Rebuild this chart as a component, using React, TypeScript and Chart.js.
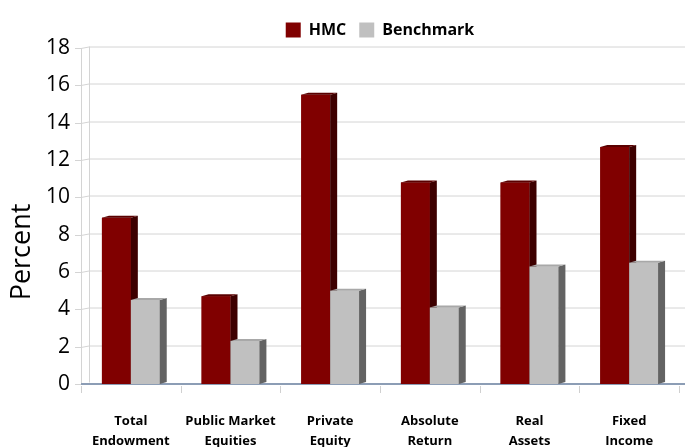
import { useEffect, useRef } from "react";
import { Chart, registerables } from "chart.js";

Chart.register(...registerables);

const categories: string[][] = [
  ["Total", "Endowment"],
  ["Public Market", "Equities"],
  ["Private", "Equity"],
  ["Absolute", "Return"],
  ["Real", "Assets"],
  ["Fixed", "Income"],
];
const seriesNames = ["HMC", "Benchmark"];
const hmcValues = [8.9, 4.7, 15.5, 10.8, 10.8, 12.7];
const benchmarkValues = [4.5, 2.3, 5.0, 4.1, 6.3, 6.5];
const yTickValues = [0, 2, 4, 6, 8, 10, 12, 14, 16, 18];
const yAxisTitle = "Percent";

const FONT = "'Open Sans', 'DejaVu Sans', sans-serif";
const DX = 7;
const DY = 2;

function drawFaces(ctx: any, el: any, ds: any) {
  const { x, y, base, width } = el.getProps(["x", "y", "base", "width"], true);
  const l = x - width / 2;
  const r = x + width / 2;
  ctx.fillStyle = ds.sideColor;
  ctx.beginPath();
  ctx.moveTo(r, y);
  ctx.lineTo(r + DX, y - DY);
  ctx.lineTo(r + DX, base - DY);
  ctx.lineTo(r, base);
  ctx.closePath();
  ctx.fill();
  ctx.fillStyle = ds.topColor;
  ctx.beginPath();
  ctx.moveTo(l, y);
  ctx.lineTo(l + DX, y - DY);
  ctx.lineTo(r + DX, y - DY);
  ctx.lineTo(r, y);
  ctx.closePath();
  ctx.fill();
}

const depthPlugin = {
  id: "depth3d",
  afterDatasetsDraw(chart: any) {
    const ctx = chart.ctx;
    ctx.save();
    chart.data.datasets.forEach((ds: any, i: number) => {
      const meta = chart.getDatasetMeta(i);
      meta.data.forEach((el: any) => {
        el.draw(ctx);
        drawFaces(ctx, el, ds);
      });
    });
    ctx.restore();
  },
};

const wallPlugin = {
  id: "walls",
  beforeDatasetsDraw(chart: any) {
    const ctx = chart.ctx;
    const { left, right, top, bottom } = chart.chartArea;
    const ys = chart.scales.y;
    ctx.save();
    ctx.lineWidth = 1;
    ctx.strokeStyle = "#d4d4d4";
    yTickValues.forEach((v) => {
      const py = Math.round(ys.getPixelForValue(v)) + 0.5;
      ctx.beginPath();
      ctx.moveTo(left - 6, py);
      ctx.lineTo(left, py);
      if (v !== 0) {
        ctx.lineTo(left + 8, py - 1.5);
        ctx.lineTo(right + 6, py - 1.5);
      }
      ctx.stroke();
    });
    ctx.beginPath();
    ctx.moveTo(left + 0.5, top);
    ctx.lineTo(left + 0.5, bottom);
    ctx.moveTo(left + 8.5, top - 1.5);
    ctx.lineTo(left + 8.5, bottom - 1.5);
    ctx.stroke();
    ctx.strokeStyle = "#d0d0d0";
    for (let i = 0; i <= categories.length; i++) {
      const px = Math.round(left + (i * (right - left)) / categories.length) + 0.5;
      ctx.beginPath();
      ctx.moveTo(px, bottom + 2);
      ctx.lineTo(px, bottom + 9);
      ctx.stroke();
    }
    const py0 = ys.getPixelForValue(0);
    ctx.strokeStyle = "#8c9db5";
    ctx.lineWidth = 2;
    ctx.beginPath();
    ctx.moveTo(left, py0);
    ctx.lineTo(right + 6, py0);
    ctx.stroke();
    ctx.restore();
  },
  afterDraw(chart: any) {
    const ctx = chart.ctx;
    ctx.save();
    ctx.translate(22, 252);
    ctx.rotate(-Math.PI / 2);
    ctx.font = `27px ${FONT}`;
    ctx.fillStyle = "#000";
    ctx.textAlign = "center";
    ctx.textBaseline = "middle";
    ctx.fillText(yAxisTitle, 0, 0);
    ctx.restore();
  },
};

export default function App() {
  const ref = useRef<HTMLCanvasElement>(null);
  useEffect(() => {
    document.body.style.margin = "0";
    document.body.style.overflow = "hidden";
    const canvas = ref.current!;
    const chart = new Chart(canvas, {
      type: "bar",
      data: {
        labels: categories,
        datasets: [
          {
            label: seriesNames[0],
            data: hmcValues,
            backgroundColor: "#800000",
            sideColor: "#3d0000",
            topColor: "#5a0000",
          } as any,
          {
            label: seriesNames[1],
            data: benchmarkValues,
            backgroundColor: "#c0c0c0",
            sideColor: "#636363",
            topColor: "#a8a8a8",
          } as any,
        ],
      },
      options: {
        responsive: false,
        animation: false,
        layout: { padding: { left: 0, right: 6, top: 9 } },
        datasets: {
          bar: { categoryPercentage: 0.58, barPercentage: 1.0 },
        },
        plugins: {
          legend: {
            position: "top",
            fullSize: false,
            labels: {
              boxWidth: 15,
              boxHeight: 15,
              padding: 13,
              color: "#000",
              font: { family: FONT, size: 16, weight: "bold" },
            },
          },
          tooltip: { enabled: false },
        },
        scales: {
          x: {
            grid: { display: false, drawTicks: false },
            border: { display: false },
            ticks: {
              color: "#000",
              padding: 28,
              maxRotation: 0,
              autoSkip: false,
              font: { family: FONT, size: 13, weight: "bold", lineHeight: 1.5 },
            },
            afterFit: (s: any) => {
              s.height = 63;
            },
          },
          y: {
            min: yTickValues[0],
            max: yTickValues[yTickValues.length - 1],
            grid: { display: false, drawTicks: false },
            border: { display: false },
            ticks: {
              stepSize: yTickValues[1] - yTickValues[0],
              color: "#000",
              padding: 11,
              autoSkip: false,
              font: { family: FONT, size: 21 },
            },
            afterFit: (s: any) => {
              s.width = 81;
            },
          },
        },
      },
      plugins: [wallPlugin, depthPlugin],
    });
    return () => chart.destroy();
  }, []);
  return (
    <div style={{ position: "fixed", left: 0, top: 0, width: 685, height: 447 }}>
      <canvas ref={ref} width={685} height={447} />
    </div>
  );
}
